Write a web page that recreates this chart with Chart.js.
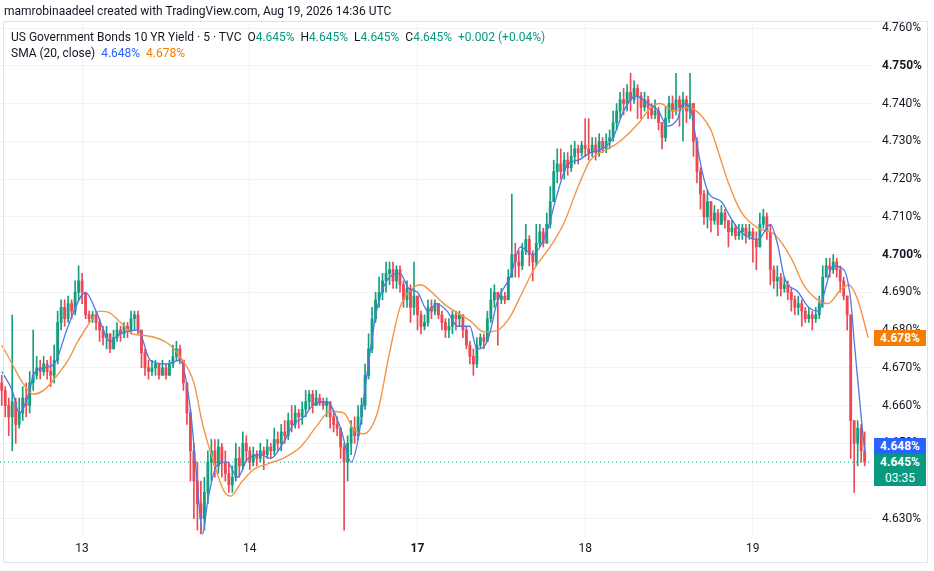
<!DOCTYPE html>
<html>
<head>
<meta charset="utf-8">
<title>US10Y 5m</title>
<script src="https://cdn.jsdelivr.net/npm/chart.js@4.4.1/dist/chart.umd.min.js"></script>
<style>
html, body { margin: 0; padding: 0; background: #fff; }
#wrap { position: relative; width: 934px; height: 571px; overflow: hidden; font-family: Roboto, "Noto Sans", sans-serif; color: #131722; }
#frame { position: absolute; left: 3px; top: 21px; width: 925px; height: 542px; border: 1px solid #e0e3eb; box-sizing: border-box; pointer-events: none; }
canvas { position: absolute; left: 0; top: 0; }
#credit { position: absolute; left: 4px; top: 4px; font-size: 12px; white-space: nowrap; }
#legend { position: absolute; left: 11px; top: 29px; font-size: 12px; line-height: 16px; white-space: nowrap; }
#legend .g { color: #089981; }
#legend .b { color: #2962ff; }
#legend .o { color: #f57c00; }
.badge { position: absolute; left: 874px; width: 52px; color: #fff; font-size: 12px; font-weight: bold; text-align: center; line-height: 16px; }
</style>
</head>
<body>
<div id="wrap">
  <canvas id="myChart" width="934" height="571"></canvas>
  <div id="frame"></div>
  <div id="credit">mamrobinaadeel created with TradingView.com, Aug 19, 2026 14:36 UTC</div>
  <div id="legend">
    <div>US Government Bonds 10 YR Yield · 5 · TVC&nbsp;&nbsp;O<span class="g">4.645%</span>&nbsp;&nbsp;H<span class="g">4.645%</span>&nbsp;&nbsp;L<span class="g">4.645%</span>&nbsp;&nbsp;C<span class="g">4.645%</span>&nbsp;&nbsp;<span class="g">+0.002 (+0.04%)</span></div>
    <div>SMA (20, close)&nbsp;&nbsp;<span class="b">4.648%</span>&nbsp;&nbsp;<span class="o">4.678%</span></div>
  </div>
  <div class="badge" id="badgeOrange" style="background:#f57c00">4.678%</div>
  <div class="badge" id="badgeBlue" style="background:#2962ff">4.648%</div>
  <div class="badge" id="badgeLast" style="background:#089981">4.645%<br><span style="font-weight:normal">03:35</span></div>
</div>
<script>
// 일자 라벨 (bar index 기준)
var dayIdx = [23, 71, 119, 167, 215];
var dayLabels = ['13', '14', '17', '18', '19'];
var boldDays = ['17'];

// y축 범위 / 눈금
var yMin = 4.6257;
var yMax = 4.7616;
var yStep = 0.01;
var boldTicks = [4.700, 4.750];

// 캔들 데이터 (close / high / low), open = 이전 close
var firstOpen = 4.666;
var closes = [
  4.664, 4.660, 4.657, 4.661, 4.655, 4.658, 4.662, 4.660, 4.666, 4.668, 4.670, 4.669,
  4.671, 4.669, 4.668, 4.672, 4.682, 4.686, 4.683, 4.687, 4.685, 4.690, 4.693, 4.690,
  4.684, 4.683, 4.684, 4.682, 4.680, 4.678, 4.679, 4.675, 4.678, 4.680, 4.679, 4.681,
  4.680, 4.683, 4.684, 4.680, 4.674, 4.670, 4.669, 4.670, 4.671, 4.668, 4.670, 4.668,
  4.671, 4.673, 4.675, 4.672, 4.666, 4.658, 4.648, 4.640, 4.634, 4.630, 4.637, 4.645,
  4.648, 4.644, 4.649, 4.645, 4.642, 4.639, 4.641, 4.646, 4.644, 4.650, 4.648, 4.645,
  4.647, 4.646, 4.648, 4.647, 4.649, 4.648, 4.651, 4.650, 4.653, 4.652, 4.656, 4.655,
  4.658, 4.657, 4.659, 4.661, 4.663, 4.660, 4.662, 4.661, 4.660, 4.661, 4.657, 4.655,
  4.654, 4.649, 4.645, 4.650, 4.654, 4.652, 4.657, 4.660, 4.668, 4.675, 4.683, 4.688,
  4.690, 4.693, 4.695, 4.696, 4.693, 4.696, 4.692, 4.688, 4.691, 4.686, 4.689, 4.684,
  4.681, 4.682, 4.686, 4.685, 4.687, 4.684, 4.682, 4.680, 4.681, 4.684, 4.683, 4.684,
  4.680, 4.676, 4.673, 4.671, 4.676, 4.678, 4.677, 4.683, 4.688, 4.690, 4.688, 4.689,
  4.688, 4.694, 4.700, 4.698, 4.697, 4.701, 4.704, 4.700, 4.698, 4.703, 4.706, 4.703,
  4.708, 4.714, 4.722, 4.724, 4.722, 4.725, 4.723, 4.726, 4.728, 4.727, 4.729, 4.728,
  4.727, 4.729, 4.727, 4.730, 4.728, 4.730, 4.731, 4.735, 4.738, 4.741, 4.740, 4.743,
  4.741, 4.744, 4.742, 4.739, 4.741, 4.739, 4.737, 4.738, 4.735, 4.731, 4.736, 4.740,
  4.738, 4.741, 4.739, 4.741, 4.738, 4.740, 4.730, 4.722, 4.716, 4.710, 4.714, 4.709,
  4.711, 4.708, 4.711, 4.709, 4.706, 4.707, 4.705, 4.706, 4.707, 4.705, 4.706, 4.704,
  4.702, 4.708, 4.710, 4.706, 4.696, 4.693, 4.694, 4.691, 4.692, 4.690, 4.688, 4.686,
  4.687, 4.685, 4.683, 4.684, 4.683, 4.684, 4.687, 4.694, 4.697, 4.696, 4.698, 4.696,
  4.693, 4.689, 4.684, 4.656, 4.650, 4.654, 4.648, 4.645
];
var highs = [
  4.668, 4.665, 4.662, 4.684, 4.662, 4.662, 4.665, 4.666, 4.669, 4.680, 4.673, 4.672,
  4.673, 4.672, 4.673, 4.676, 4.685, 4.688, 4.688, 4.689, 4.688, 4.693, 4.697, 4.695,
  4.690, 4.685, 4.685, 4.685, 4.683, 4.681, 4.681, 4.679, 4.680, 4.682, 4.681, 4.682,
  4.682, 4.685, 4.685, 4.685, 4.680, 4.675, 4.672, 4.672, 4.672, 4.671, 4.672, 4.671,
  4.672, 4.676, 4.677, 4.676, 4.672, 4.666, 4.659, 4.650, 4.645, 4.640, 4.641, 4.648,
  4.651, 4.651, 4.651, 4.650, 4.648, 4.645, 4.644, 4.650, 4.649, 4.653, 4.652, 4.649,
  4.649, 4.648, 4.650, 4.649, 4.651, 4.650, 4.654, 4.653, 4.655, 4.656, 4.658, 4.660,
  4.660, 4.659, 4.661, 4.664, 4.664, 4.664, 4.664, 4.663, 4.662, 4.662, 4.661, 4.658,
  4.657, 4.654, 4.650, 4.652, 4.656, 4.657, 4.660, 4.662, 4.671, 4.679, 4.686, 4.690,
  4.694, 4.695, 4.698, 4.698, 4.698, 4.697, 4.697, 4.693, 4.693, 4.692, 4.698, 4.689,
  4.685, 4.684, 4.688, 4.688, 4.688, 4.687, 4.685, 4.683, 4.683, 4.685, 4.685, 4.685,
  4.684, 4.681, 4.677, 4.675, 4.678, 4.679, 4.679, 4.685, 4.691, 4.692, 4.690, 4.691,
  4.690, 4.696, 4.716, 4.703, 4.701, 4.703, 4.708, 4.705, 4.701, 4.708, 4.708, 4.707,
  4.711, 4.718, 4.725, 4.728, 4.728, 4.727, 4.727, 4.729, 4.730, 4.729, 4.730, 4.736,
  4.736, 4.731, 4.731, 4.732, 4.731, 4.732, 4.733, 4.738, 4.740, 4.743, 4.744, 4.745,
  4.748, 4.746, 4.745, 4.743, 4.743, 4.742, 4.740, 4.741, 4.739, 4.735, 4.739, 4.742,
  4.742, 4.748, 4.742, 4.743, 4.742, 4.748, 4.740, 4.731, 4.723, 4.717, 4.717, 4.714,
  4.713, 4.712, 4.713, 4.712, 4.709, 4.709, 4.708, 4.708, 4.708, 4.708, 4.708, 4.707,
  4.706, 4.711, 4.712, 4.711, 4.708, 4.697, 4.697, 4.695, 4.694, 4.693, 4.691, 4.689,
  4.689, 4.688, 4.686, 4.686, 4.685, 4.686, 4.689, 4.697, 4.699, 4.699, 4.700, 4.699,
  4.697, 4.694, 4.689, 4.684, 4.656, 4.656, 4.655, 4.653
];
var lows = [
  4.660, 4.657, 4.652, 4.648, 4.650, 4.654, 4.656, 4.657, 4.658, 4.664, 4.667, 4.667,
  4.668, 4.667, 4.665, 4.666, 4.671, 4.680, 4.681, 4.682, 4.683, 4.684, 4.688, 4.687,
  4.683, 4.682, 4.682, 4.680, 4.677, 4.676, 4.675, 4.674, 4.675, 4.677, 4.677, 4.678,
  4.678, 4.679, 4.680, 4.679, 4.670, 4.668, 4.667, 4.668, 4.668, 4.667, 4.668, 4.667,
  4.668, 4.670, 4.672, 4.671, 4.664, 4.655, 4.640, 4.630, 4.627, 4.626, 4.627, 4.634,
  4.640, 4.641, 4.642, 4.641, 4.640, 4.637, 4.637, 4.640, 4.641, 4.643, 4.645, 4.643,
  4.644, 4.644, 4.645, 4.643, 4.646, 4.646, 4.647, 4.648, 4.648, 4.650, 4.651, 4.653,
  4.654, 4.654, 4.655, 4.657, 4.659, 4.658, 4.660, 4.660, 4.659, 4.657, 4.654, 4.653,
  4.652, 4.646, 4.627, 4.640, 4.647, 4.650, 4.651, 4.655, 4.659, 4.667, 4.674, 4.682,
  4.686, 4.688, 4.690, 4.692, 4.691, 4.691, 4.690, 4.686, 4.686, 4.682, 4.684, 4.680,
  4.679, 4.680, 4.681, 4.683, 4.684, 4.683, 4.680, 4.678, 4.678, 4.679, 4.680, 4.681,
  4.678, 4.675, 4.671, 4.668, 4.670, 4.675, 4.675, 4.677, 4.682, 4.686, 4.676, 4.687,
  4.687, 4.688, 4.694, 4.694, 4.694, 4.696, 4.700, 4.697, 4.693, 4.697, 4.702, 4.702,
  4.703, 4.707, 4.714, 4.719, 4.720, 4.720, 4.721, 4.722, 4.724, 4.724, 4.726, 4.726,
  4.725, 4.726, 4.725, 4.726, 4.727, 4.727, 4.728, 4.730, 4.733, 4.736, 4.737, 4.738,
  4.738, 4.740, 4.736, 4.736, 4.738, 4.736, 4.736, 4.736, 4.733, 4.728, 4.730, 4.735,
  4.736, 4.737, 4.734, 4.730, 4.735, 4.736, 4.726, 4.719, 4.712, 4.708, 4.707, 4.706,
  4.708, 4.705, 4.708, 4.707, 4.702, 4.705, 4.704, 4.704, 4.704, 4.703, 4.704, 4.698,
  4.696, 4.702, 4.707, 4.704, 4.692, 4.691, 4.689, 4.689, 4.690, 4.688, 4.685, 4.684,
  4.684, 4.681, 4.682, 4.682, 4.680, 4.682, 4.683, 4.686, 4.694, 4.694, 4.695, 4.694,
  4.690, 4.688, 4.680, 4.646, 4.637, 4.644, 4.645, 4.644
];

// SMA 라인 (그림에서 읽은 값, bar index / 값)
var smaBlueIdx = [0, 3, 5, 8, 9, 12, 15, 19, 24, 27, 31, 34, 39, 42.5, 47, 51, 54, 56, 57.5, 59,
  61.5, 64.5, 67.5, 70.5, 74, 77, 80.5, 83.5, 86.5, 89, 93, 97, 100, 102, 104.5, 107.5, 111, 114,
  116.5, 119, 122, 124.5, 127.5, 130.5, 134, 136, 139, 142, 145.5, 148.5, 152, 156, 159, 162, 165,
  168.5, 172, 175, 178, 181.5, 185, 188, 190.5, 193.5, 195, 197, 199, 201, 202.5, 206, 208.5,
  211.5, 216.5, 220, 222, 224, 228, 231, 234, 235.5, 238, 241, 243, 244, 246, 247];
var smaBlueVal = [4.669, 4.664, 4.658, 4.664, 4.668, 4.670, 4.671, 4.681, 4.690, 4.685, 4.677,
  4.679, 4.680, 4.672, 4.671, 4.672, 4.659, 4.639, 4.626, 4.635, 4.644, 4.645, 4.641, 4.646,
  4.647, 4.646, 4.650, 4.655, 4.657, 4.660, 4.661, 4.654, 4.645, 4.651, 4.668, 4.686, 4.694,
  4.695, 4.691, 4.690, 4.685, 4.687, 4.685, 4.681, 4.681, 4.675, 4.677, 4.688, 4.694, 4.702,
  4.700, 4.706, 4.716, 4.724, 4.725, 4.727, 4.728, 4.731, 4.738, 4.742, 4.740, 4.738, 4.734,
  4.736, 4.740, 4.739, 4.729, 4.720, 4.716, 4.714, 4.710, 4.706, 4.704, 4.708, 4.703, 4.694,
  4.690, 4.686, 4.685, 4.690, 4.697, 4.696, 4.688, 4.677, 4.657, 4.648];

var smaOrangeIdx = [0, 3, 6, 9, 12, 15, 19, 21.5, 24.5, 28, 31, 34, 37.5, 41.5, 47.5, 51, 55,
  57.5, 60.5, 63.5, 65.5, 68.5, 72, 76, 80.5, 85.5, 90.5, 94, 98, 100.5, 103.5, 107.5, 111, 114,
  117, 120, 122.5, 126.5, 130.5, 134, 138, 142, 145.5, 148.5, 152, 158, 161, 165, 168.5, 173.5,
  177, 182, 186.5, 188.5, 192.5, 196.5, 200, 203, 205, 208, 211.5, 216.5, 221, 226, 229.5, 233.5,
  236.5, 240, 242.5, 245, 248];
var smaOrangeVal = [4.676, 4.671, 4.666, 4.663, 4.664, 4.667, 4.672, 4.6765, 4.681, 4.685,
  4.6845, 4.682, 4.679, 4.6785, 4.6765, 4.673, 4.666, 4.655, 4.6455, 4.6375, 4.636, 4.6395,
  4.643, 4.6445, 4.646, 4.649, 4.655, 4.6585, 4.658, 4.654, 4.6525, 4.658, 4.674, 4.686,
  4.6905, 4.692, 4.6905, 4.687, 4.6845, 4.6825, 4.6795, 4.680, 4.6835, 4.689, 4.6955, 4.7035,
  4.7085, 4.718, 4.725, 4.728, 4.730, 4.7345, 4.7395, 4.740, 4.738, 4.739, 4.737, 4.733,
  4.7275, 4.719, 4.7115, 4.707, 4.7055, 4.699, 4.692, 4.688, 4.687, 4.6905, 4.692, 4.688, 4.678];

var lastPrice = 4.645;
var smaBlueLast = 4.648;
var smaOrangeLast = 4.678;

var upColor = '#14a07f';
var downColor = '#ee4853';

var wickData = [];
var bodyData = [];
var candleColors = [];
for (var i = 0; i < closes.length; i++) {
    var o = i === 0 ? firstOpen : closes[i - 1];
    var c = closes[i];
    wickData.push({ x: i, y: [Math.min(lows[i], o, c), Math.max(highs[i], o, c)] });
    bodyData.push({ x: i, y: [o, c] });
    candleColors.push(c >= o ? upColor : downColor);
}

var fontFamily = 'Roboto, "Noto Sans", sans-serif';

function positionBadges(chart) {
    var ys = chart.scales.y;
    var pOrange = ys.getPixelForValue(smaOrangeLast);
    var pLast = ys.getPixelForValue(lastPrice);
    var lastTop = Math.round(pLast - 8);
    document.getElementById('badgeOrange').style.top = Math.round(pOrange - 8) + 'px';
    document.getElementById('badgeLast').style.top = lastTop + 'px';
    document.getElementById('badgeBlue').style.top = (lastTop - 16) + 'px';
}

var ctx = document.getElementById('myChart').getContext('2d');
var myChart = new Chart(ctx, {
    data: {
        datasets: [{
            type: 'line',
            label: 'SMA fast',
            data: smaBlueIdx.map(function (x, k) { return { x: x, y: smaBlueVal[k] }; }),
            borderColor: '#4d79e6',
            borderWidth: 1.3,
            pointRadius: 0,
            cubicInterpolationMode: 'monotone',
            order: 0
        }, {
            type: 'line',
            label: 'SMA slow',
            data: smaOrangeIdx.map(function (x, k) { return { x: x, y: smaOrangeVal[k] }; }),
            borderColor: '#f29545',
            borderWidth: 1.4,
            pointRadius: 0,
            cubicInterpolationMode: 'monotone',
            order: 0
        }, {
            type: 'line',
            label: 'last',
            data: [{ x: -0.5, y: lastPrice }, { x: 250, y: lastPrice }],
            borderColor: '#089981',
            borderWidth: 1,
            borderDash: [1, 3],
            pointRadius: 0,
            order: 2
        }, {
            type: 'bar',
            label: 'wick',
            data: wickData,
            backgroundColor: candleColors,
            barThickness: 1,
            grouped: false,
            borderWidth: 0,
            borderSkipped: false,
            order: 1
        }, {
            type: 'bar',
            label: 'body',
            data: bodyData,
            backgroundColor: candleColors,
            barThickness: 2.2,
            minBarLength: 1,
            grouped: false,
            borderWidth: 0,
            borderSkipped: false,
            order: 1
        }]
    },
    options: {
        responsive: false,
        animation: false,
        layout: { padding: { left: 0, top: 22, right: 6, bottom: 8 } },
        scales: {
            x: {
                type: 'linear',
                min: -0.5,
                max: 249.1,
                offset: false,
                grid: { color: '#f0f3fa', drawTicks: false, offset: false },
                border: { display: false },
                afterBuildTicks: function (scale) {
                    scale.ticks = dayIdx.map(function (v) { return { value: v }; });
                },
                afterFit: function (scale) { scale.height = 28; },
                ticks: {
                    padding: 7,
                    color: '#131722',
                    maxRotation: 0,
                    autoSkip: false,
                    font: function (c) {
                        var lbl = c.tick ? dayLabels[dayIdx.indexOf(c.tick.value)] : '';
                        return { family: fontFamily, size: 12, weight: boldDays.indexOf(lbl) >= 0 ? 'bold' : 'normal' };
                    },
                    callback: function (value) {
                        var k = dayIdx.indexOf(value);
                        return k >= 0 ? dayLabels[k] : '';
                    }
                }
            },
            y: {
                type: 'linear',
                position: 'right',
                min: yMin,
                max: yMax,
                grid: { color: '#f0f3fa', drawTicks: false },
                border: { display: false },
                afterFit: function (scale) { scale.width = 56; },
                ticks: {
                    stepSize: yStep,
                    includeBounds: false,
                    padding: 10,
                    color: '#131722',
                    font: function (c) {
                        var bold = c.tick && boldTicks.some(function (b) { return Math.abs(b - c.tick.value) < 1e-6; });
                        return { family: fontFamily, size: 12, weight: bold ? 'bold' : 'normal' };
                    },
                    callback: function (value) { return value.toFixed(3) + '%'; }
                }
            }
        },
        plugins: {
            legend: { display: false },
            tooltip: { enabled: false }
        }
    },
    plugins: [{
        id: 'badges',
        afterDraw: function (chart) { positionBadges(chart); }
    }]
});
</script>
</body>
</html>
